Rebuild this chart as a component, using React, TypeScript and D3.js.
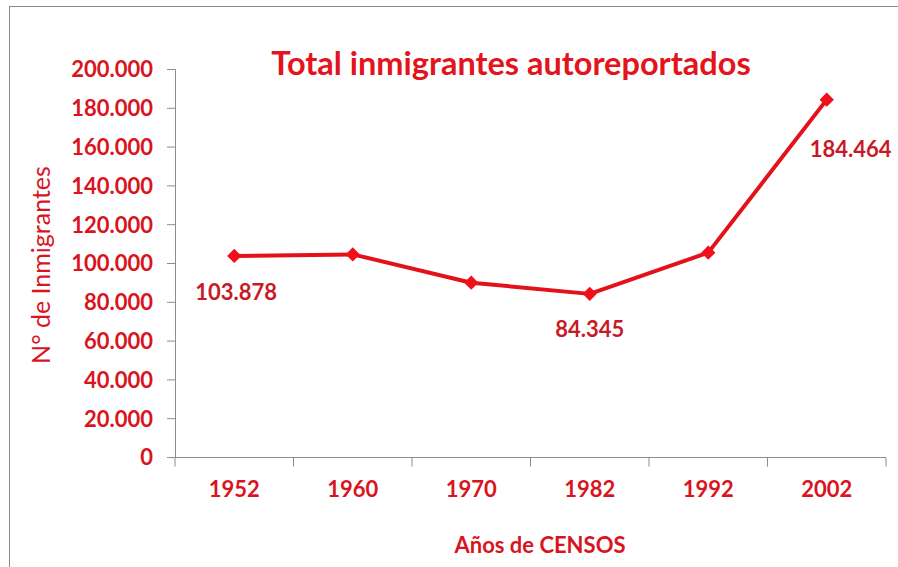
import React from "react";
import * as d3 from "d3";

const years = ["1952", "1960", "1970", "1982", "1992", "2002"];
const immigrants = [103878, 104700, 90100, 84345, 105600, 184464];
const labelled = [
  { index: 0, text: "103.878", dx: 2, dy: 44 },
  { index: 3, text: "84.345", dx: 0, dy: 43 },
  { index: 5, text: "184.464", dx: 24, dy: 57 },
];
const yTicks = [0, 20000, 40000, 60000, 80000, 100000, 120000, 140000, 160000, 180000, 200000];
const title = "Total inmigrantes autoreportados";
const xTitle = "Años de CENSOS";
const yTitle = "N° de Inmigrantes";

const W = 898;
const H = 567;
const FONT = "Lato, 'Open Sans', sans-serif";
const TEXT_RED = "#D9141E";
const LINE_RED = "#E3121A";

const fmt = (v: number) => (v === 0 ? "0" : d3.format(",")(v).replace(/,/g, "."));

export default function App() {
  const x = d3.scaleBand<string>().domain(years).range([175, 886]);
  const y = d3.scaleLinear().domain([0, 200000]).range([457.5, 69.5]);
  const cx = (i: number) => (x(years[i]) as number) + x.bandwidth() / 2;
  const line = d3
    .line<number>()
    .x((_, i) => cx(i))
    .y((d) => y(d));
  const boundaries = [...years.map((c) => x(c) as number), x.range()[1]];
  const diamond = d3.symbol().type(d3.symbolDiamond2).size(130)();

  return (
    <svg
      width={W}
      height={H}
      style={{ position: "absolute", left: 0, top: 0, background: "#fff" }}
    >
      <rect x={9.5} y={6.5} width={W + 10} height={H + 10} fill="#fff" stroke="#8a8a8a" strokeWidth={1} />
      <text
        x={511}
        y={75}
        textAnchor="middle"
        fontFamily={FONT}
        fontWeight={700}
        fontSize={32.5}
        fill="#E3141C"
      >
        {title}
      </text>

      {/* Y axis */}
      <line x1={175.5} x2={175.5} y1={y(200000)} y2={y(0)} stroke="#8c8c8c" strokeWidth={1} />
      {yTicks.map((t) => (
        <g key={t}>
          <line x1={167} x2={175.5} y1={y(t)} y2={y(t)} stroke="#8c8c8c" strokeWidth={1} />
          <text
            x={153}
            y={y(t)}
            dy="0.36em"
            textAnchor="end"
            fontFamily={FONT}
            fontWeight={700}
            fontSize={22}
            fill={TEXT_RED}
          >
            {fmt(t)}
          </text>
        </g>
      ))}

      {/* X axis */}
      <line x1={175} x2={886} y1={y(0)} y2={y(0)} stroke="#8c8c8c" strokeWidth={1} />
      {boundaries.map((b, i) => (
        <line key={i} x1={b} x2={b} y1={y(0)} y2={y(0) + 9} stroke="#8c8c8c" strokeWidth={1} />
      ))}
      {years.map((c, i) => (
        <text
          key={c}
          x={cx(i)}
          y={497}
          textAnchor="middle"
          fontFamily={FONT}
          fontWeight={700}
          fontSize={22}
          fill={TEXT_RED}
        >
          {c}
        </text>
      ))}

      <text
        x={540}
        y={553}
        textAnchor="middle"
        fontFamily={FONT}
        fontWeight={700}
        fontSize={22}
        fill={TEXT_RED}
      >
        {xTitle}
      </text>
      <text
        transform={`translate(50,265) rotate(-90)`}
        textAnchor="middle"
        fontFamily={FONT}
        fontWeight={400}
        fontSize={25}
        fill={TEXT_RED}
      >
        {yTitle}
      </text>

      {/* Series */}
      <path d={line(immigrants) as string} fill="none" stroke={LINE_RED} strokeWidth={4} strokeLinejoin="round" />
      {immigrants.map((v, i) => (
        <path key={i} d={diamond as string} transform={`translate(${cx(i)},${y(v)})`} fill="#F0101A" />
      ))}
      {labelled.map((l) => (
        <text
          key={l.index}
          x={cx(l.index) + l.dx}
          y={y(immigrants[l.index]) + l.dy}
          textAnchor="middle"
          fontFamily={FONT}
          fontWeight={700}
          fontSize={22}
          fill="#C81A26"
        >
          {l.text}
        </text>
      ))}
    </svg>
  );
}
